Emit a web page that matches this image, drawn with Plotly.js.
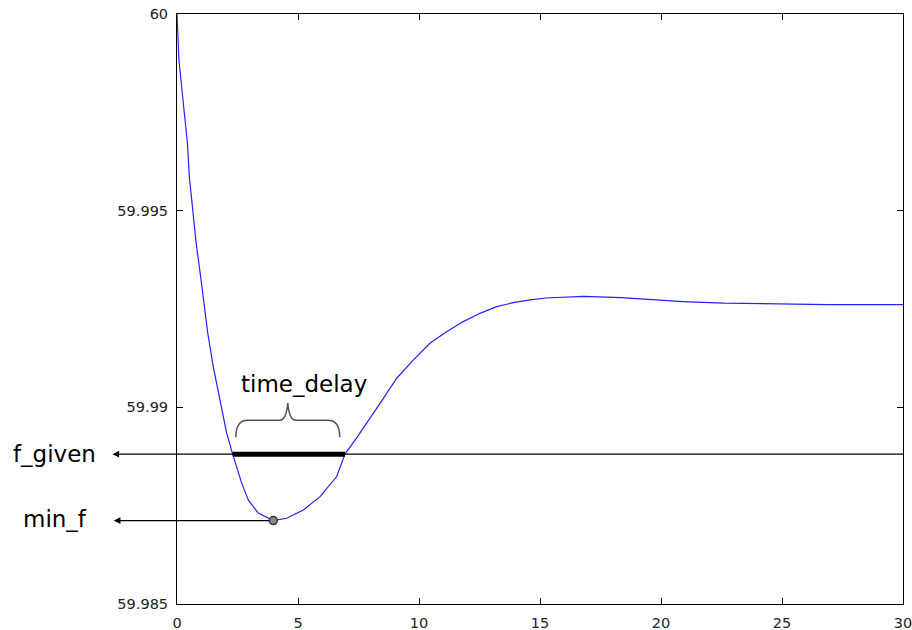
<!DOCTYPE html>
<html>
<head>
<meta charset="utf-8">
<script src="https://cdn.plot.ly/plotly-3.0.1.min.js"></script>
<style>
  html, body { margin: 0; padding: 0; background: #fff; }
  #chart { width: 912px; height: 630px; }
</style>
</head>
<body>
<div id="chart"></div>
<script>
// Frequency response (time in s, frequency in Hz)
var time = [0, 0.08, 0.29, 0.43, 0.51, 0.65, 0.79, 0.98, 1.16, 1.27, 1.50, 1.78, 2.05, 2.30, 2.67, 2.95, 3.36, 3.98, 4.53, 5.22, 5.91, 6.60, 6.94, 7.43, 7.98, 8.39, 9.08, 9.76, 10.45, 11.14, 11.83, 12.52, 13.21, 13.90, 14.59, 15.25, 16.8, 18.35, 19.8, 20.9, 22.6, 24.3, 26.9, 30];
var freq = [60, 59.99883, 59.99756, 59.99672, 59.99586, 59.99502, 59.99418, 59.99331, 59.99247, 59.99189, 59.99103, 59.99019, 59.98935, 59.98881, 59.98808, 59.98764, 59.98731, 59.98712, 59.98718, 59.98739, 59.98773, 59.98824, 59.98881, 59.98923, 59.98972, 59.99010, 59.99074, 59.99120, 59.99163, 59.99192, 59.99218, 59.99239, 59.99256, 59.99266, 59.99273, 59.99278, 59.99282, 59.99279, 59.99273, 59.99269, 59.99265, 59.99263, 59.99261, 59.99261];

var fGiven = 59.98881;
var minF = 59.98712;
var tMin = 3.98;
var delayStart = 2.30;
var delayEnd = 6.94;

var xTicks = [0, 5, 10, 15, 20, 25, 30];
var yTicks = [59.985, 59.99, 59.995, 60];
var yTickLabels = ['59.985', '59.99', '59.995', '60'];

var labelFont = { family: 'DejaVu Sans, Arial, sans-serif', size: 23, color: '#000' };
var tickFont = { family: 'DejaVu Sans, Arial, sans-serif', size: 14.5, color: '#222' };

var traces = [
  {
    x: time, y: freq, type: 'scatter', mode: 'lines',
    line: { color: '#2323ff', width: 1.2 }, hoverinfo: 'skip'
  },
  {
    x: [delayStart, delayEnd], y: [fGiven, fGiven], type: 'scatter', mode: 'lines',
    line: { color: '#000', width: 5 }, hoverinfo: 'skip'
  },
  {
    x: [tMin], y: [minF], type: 'scatter', mode: 'markers',
    marker: { size: 8, color: '#8a8a8a', line: { color: '#333', width: 1.5 } },
    cliponaxis: false, hoverinfo: 'skip'
  }
];

var delayMid = (delayStart + delayEnd) / 2;

var shapes = [
  {
    type: 'path', xref: 'x', yref: 'y',
    xsizemode: 'pixel', ysizemode: 'pixel',
    xanchor: delayMid, yanchor: fGiven,
    path: 'M -53,17 C -53,28 -49,34 -41,34 L -9,34 C -4,34 -2,40 -1,51 C 0,40 2,34 7,34 L 39,34 C 47,34 51,28 51,17',
    line: { color: '#555', width: 1.5 }
  }
];

var annotations = [
  {
    x: 30, y: fGiven, xref: 'x', yref: 'y', text: ' ', font: { size: 1 },
    showarrow: true, axref: 'pixel', ayref: 'pixel', ax: -792, ay: 0,
    arrowside: 'start', startarrowhead: 2, startarrowsize: 1.1, arrowwidth: 1.2,
    arrowcolor: '#000', standoff: 0, startstandoff: 0
  },
  {
    x: tMin, y: minF, xref: 'x', yref: 'y', text: ' ', font: { size: 1 },
    showarrow: true, axref: 'pixel', ayref: 'pixel', ax: -161, ay: 0,
    arrowside: 'start', startarrowhead: 2, startarrowsize: 1.1, arrowwidth: 1.2,
    arrowcolor: '#000', standoff: 4, startstandoff: 0
  },
  {
    x: -0.229, y: fGiven, xref: 'paper', yref: 'y', text: 'f_given',
    showarrow: false, xanchor: 'left', yanchor: 'middle', font: labelFont
  },
  {
    x: -0.215, y: minF, xref: 'paper', yref: 'y', text: 'min_f',
    showarrow: false, xanchor: 'left', yanchor: 'middle', yshift: 2, font: labelFont
  },
  {
    x: delayMid, y: fGiven, xref: 'x', yref: 'y', text: 'time_delay',
    showarrow: false, xanchor: 'center', yanchor: 'middle', xshift: 15, yshift: 70, font: labelFont
  }
];

var layout = {
  width: 912, height: 630,
  margin: { l: 177, r: 9, t: 14, b: 26, pad: 0 },
  paper_bgcolor: '#fff', plot_bgcolor: '#fff',
  showlegend: false,
  xaxis: {
    range: [0, 30], tickvals: xTicks, ticktext: xTicks.map(String),
    ticks: 'inside', ticklen: 6, tickcolor: '#000', tickwidth: 1,
    showline: true, linecolor: '#000', linewidth: 1, mirror: 'ticks',
    showgrid: false, zeroline: false, tickfont: tickFont, fixedrange: true,
    ticklabelstandoff: 6, ticklabeloverflow: 'allow'
  },
  yaxis: {
    range: [59.985, 60], tickvals: yTicks, ticktext: yTickLabels,
    ticks: 'inside', ticklen: 6, tickcolor: '#000', tickwidth: 1,
    showline: true, linecolor: '#000', linewidth: 1, mirror: 'ticks',
    showgrid: false, zeroline: false, tickfont: tickFont, fixedrange: true,
    ticklabelstandoff: 5, ticklabeloverflow: 'allow'
  },
  shapes: shapes,
  annotations: annotations
};

Plotly.newPlot('chart', traces, layout, { displayModeBar: false, staticPlot: true });
</script>
</body>
</html>
